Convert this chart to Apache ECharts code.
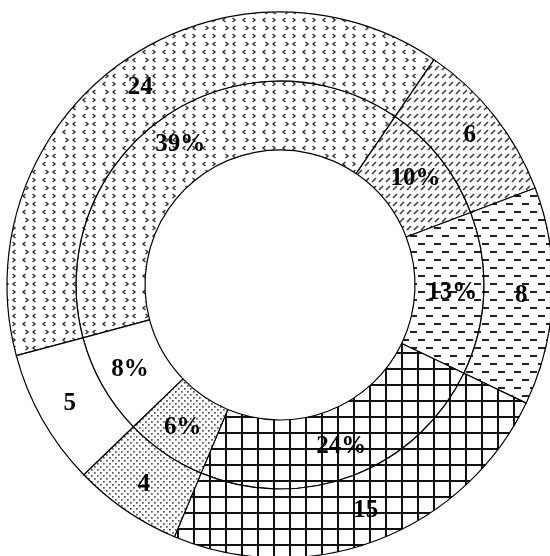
<!DOCTYPE html>
<html>
<head>
<meta charset="utf-8">
<script src="https://cdn.jsdelivr.net/npm/echarts@6/dist/echarts.min.js"></script>
<style>
  html, body { margin: 0; padding: 0; background: #fff; }
  #chart { width: 550px; height: 556px; }
</style>
</head>
<body>
<div id="chart"></div>
<script>
// Slice values, clockwise from the upper-left slice
const values = [24, 6, 8, 15, 4, 5];
const sliceNames = ['a', 'b', 'c', 'd', 'e', 'f'];
// Fill pattern for each slice
const patternKinds = ['chevron', 'slash', 'dash', 'grid', 'dots', 'plain'];

function tile(w, h, draw) {
  const c = document.createElement('canvas');
  c.width = w; c.height = h;
  const ctx = c.getContext('2d');
  ctx.fillStyle = '#ffffff';
  ctx.fillRect(0, 0, w, h);
  draw(ctx);
  return { image: c, repeat: 'repeat' };
}

function chevron(ctx, x, y, dir) {
  ctx.beginPath();
  ctx.moveTo(x + 2.5 * dir, y - 2);
  ctx.lineTo(x, y);
  ctx.lineTo(x + 2.5 * dir, y + 2);
  ctx.stroke();
}

const patterns = {
  chevron: tile(20, 16, ctx => {
    ctx.strokeStyle = '#333';
    ctx.lineWidth = 1.5;
    chevron(ctx, 3, 4, 1);
    chevron(ctx, 15, 4, -1);
    chevron(ctx, 8, 12, -1);
    chevron(ctx, 13, 12, 1);
  }),
  slash: tile(7, 8, ctx => {
    ctx.strokeStyle = '#444';
    ctx.lineWidth = 1.7;
    ctx.beginPath();
    ctx.moveTo(1, 6);
    ctx.lineTo(5, 2);
    ctx.stroke();
  }),
  dash: tile(16, 16, ctx => {
    ctx.fillStyle = '#222';
    ctx.fillRect(2, 3, 7, 2);
    ctx.fillRect(10, 11, 6, 2);
    ctx.fillRect(0, 11, 1, 2);
  }),
  grid: tile(16, 16, ctx => {
    ctx.fillStyle = '#111';
    ctx.fillRect(1, 0, 2, 16);
    ctx.fillRect(0, 0, 16, 2);
  }),
  dots: tile(6, 6, ctx => {
    ctx.fillStyle = '#555';
    ctx.fillRect(1, 1, 1.7, 1.7);
    ctx.fillRect(4, 4, 1.7, 1.7);
  }),
  plain: '#ffffff'
};

const slices = values.map((v, i) => ({
  name: sliceNames[i],
  value: v,
  itemStyle: { color: patterns[patternKinds[i]] }
}));

const labelFont = {
  color: '#000',
  fontFamily: '"Liberation Serif", "DejaVu Serif", serif',
  fontWeight: 'bold',
  fontSize: 25
};

const ringBase = {
  type: 'pie',
  center: [280, 285],
  startAngle: 195,
  clockwise: true,
  avoidLabelOverlap: false,
  silent: true,
  animation: false,
  labelLine: { show: false },
  itemStyle: { borderColor: '#000', borderWidth: 1.2 },
  emphasis: { disabled: true },
  data: slices
};

const chart = echarts.init(document.getElementById('chart'), null, { renderer: 'canvas' });
chart.setOption({
  backgroundColor: '#ffffff',
  series: [
    Object.assign({}, ringBase, {
      radius: [135, 204],
      label: Object.assign({
        show: true,
        position: 'inside',
        formatter: p => Math.round(p.percent) + '%'
      }, labelFont)
    }),
    Object.assign({}, ringBase, {
      radius: [204, 273],
      label: Object.assign({
        show: true,
        position: 'inside',
        formatter: p => String(p.value)
      }, labelFont)
    })
  ]
});
</script>
</body>
</html>
